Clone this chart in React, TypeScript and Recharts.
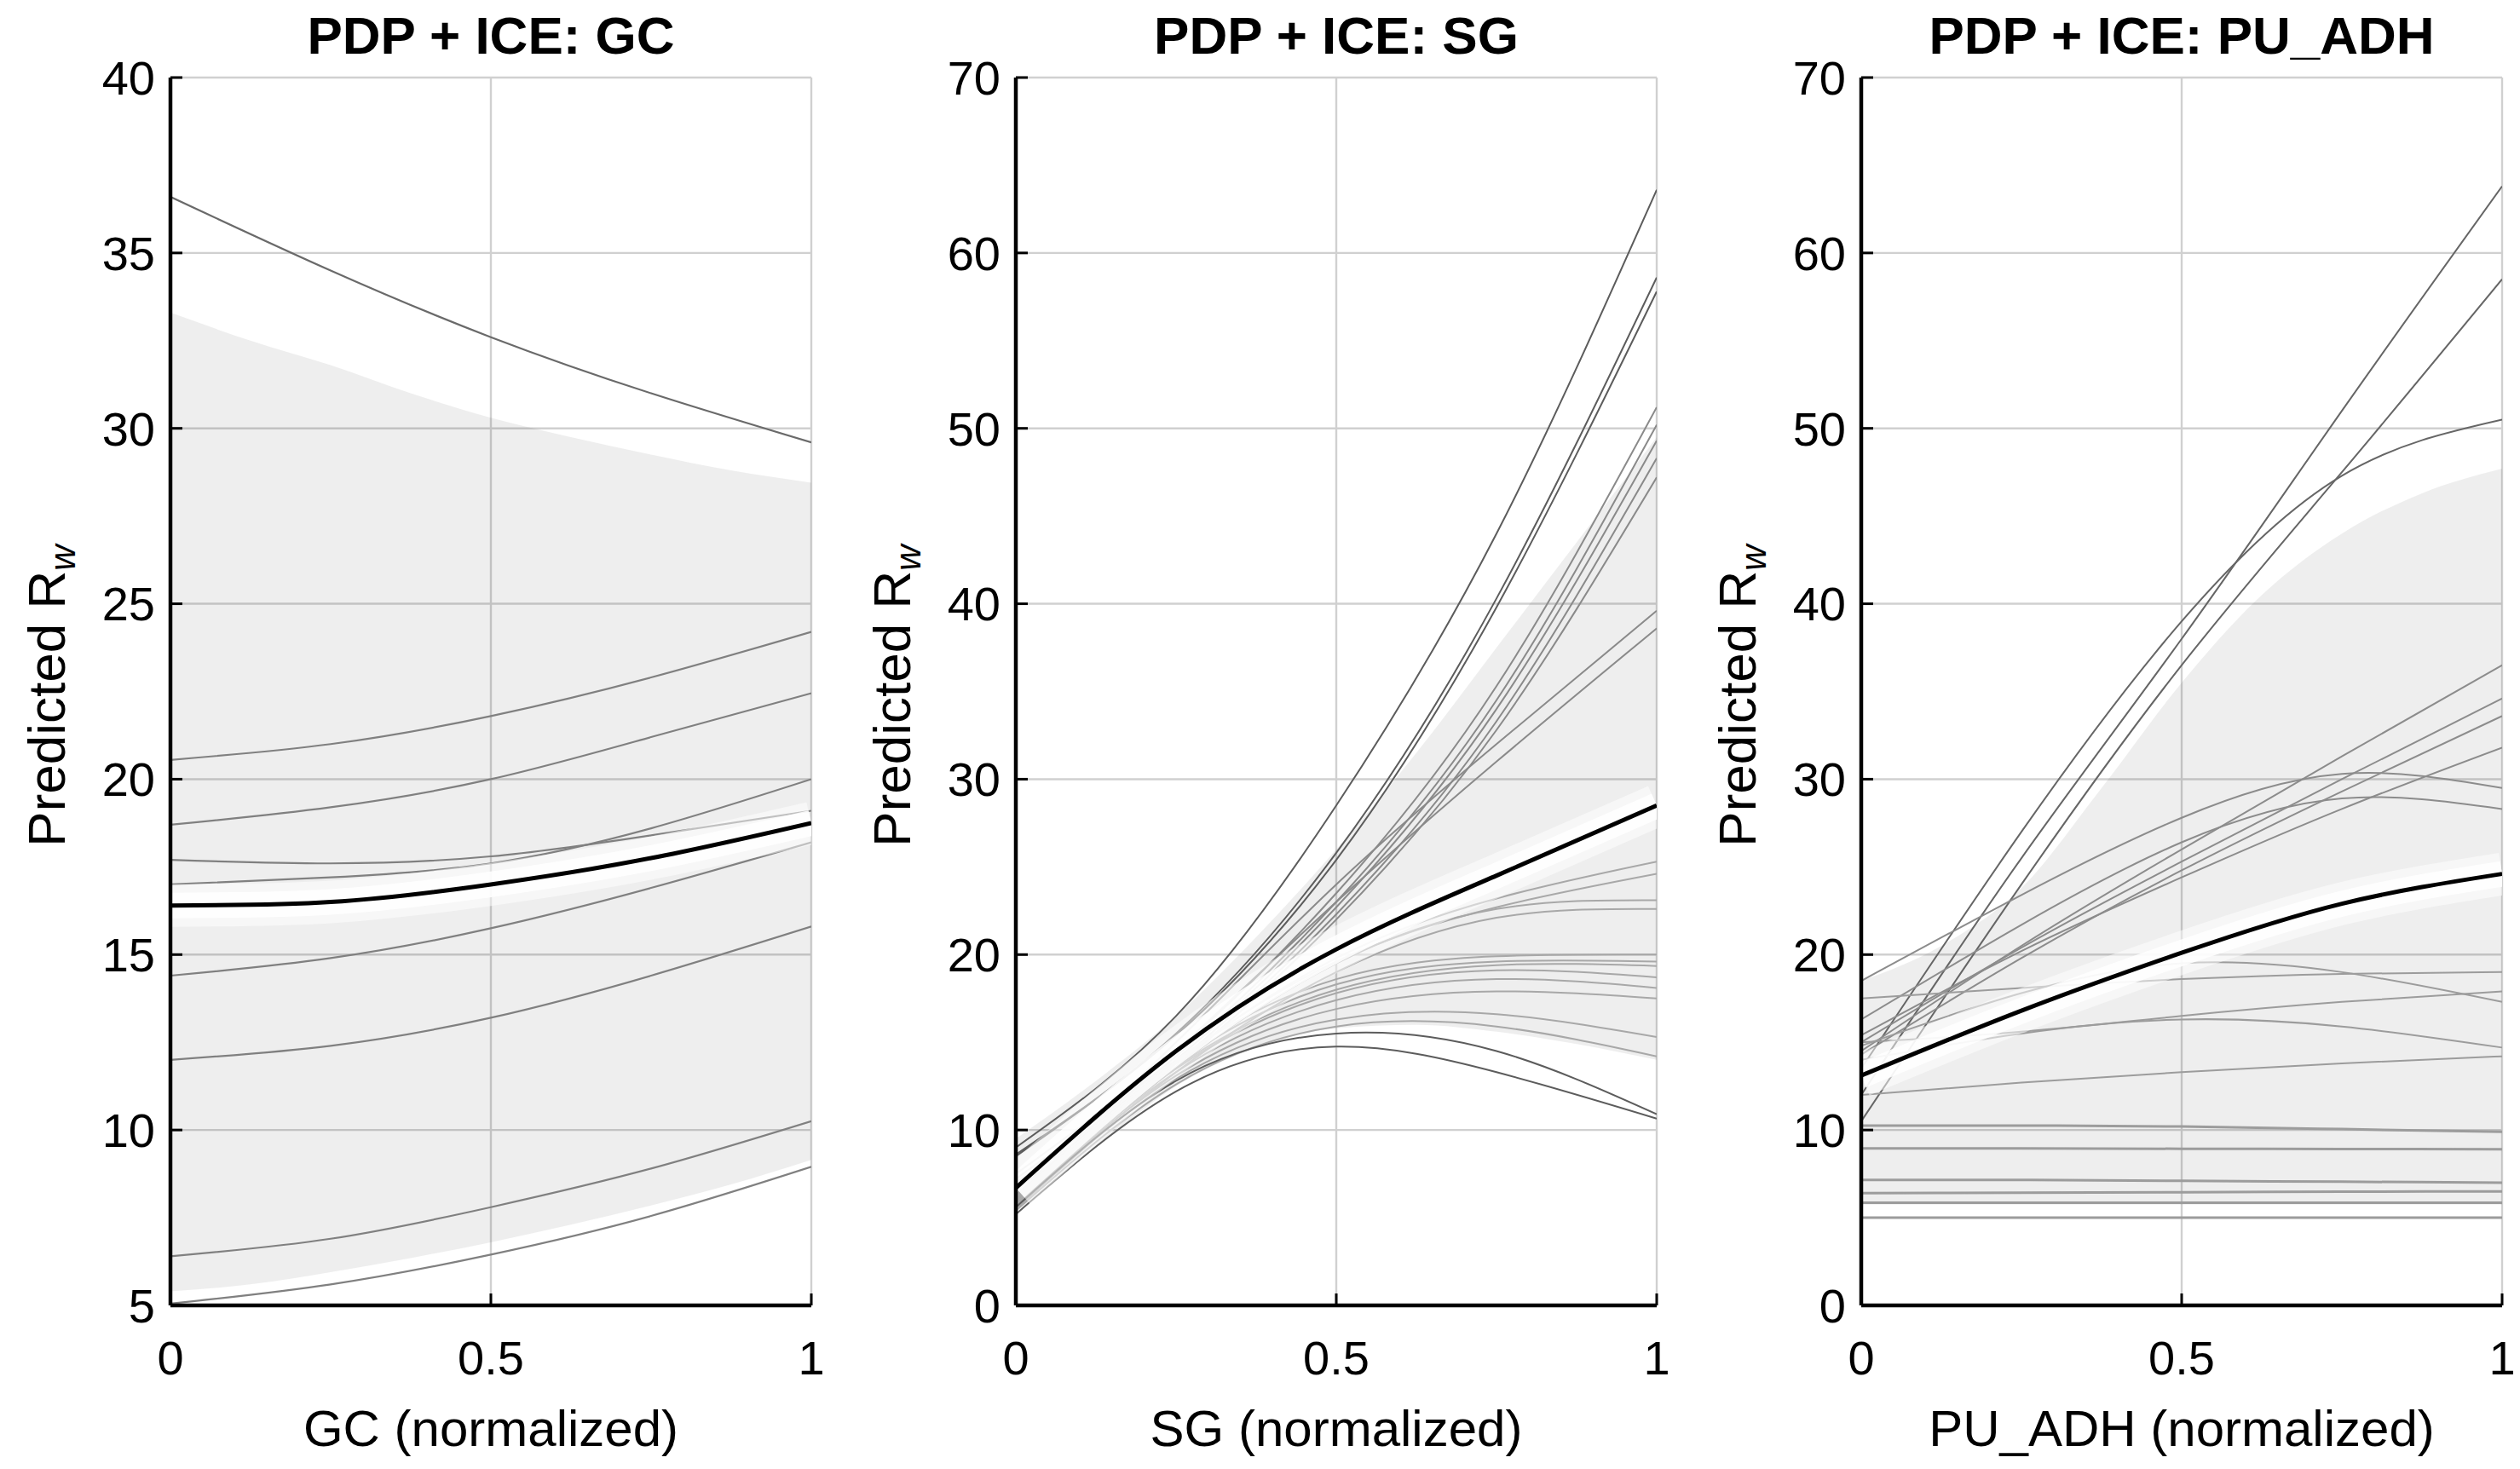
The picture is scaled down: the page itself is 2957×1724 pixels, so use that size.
import React from 'react';
import { ComposedChart, Line, Area, XAxis, YAxis, CartesianGrid } from 'recharts';

const FONT = '"Liberation Sans", Arial, Helvetica, sans-serif';

// Normalized feature positions where curves are sampled
const xGrid = [0, 0.25, 0.5, 0.75, 1];
// Finer positions for the shaded spread band
const bandGrid = [0, 0.125, 0.25, 0.375, 0.5, 0.625, 0.75, 0.875, 1];
const xTicks = [0, 0.5, 1];

// ---- GC panel ----
const gcTicks = [5, 10, 15, 20, 25, 30, 35, 40];
const gcPdp = [16.4, 16.5, 17.0, 17.75, 18.75];
const gcIce = [
  [36.6, 34.5, 32.6, 31.0, 29.6],
  [20.55, 21.0, 21.8, 22.9, 24.2],
  [18.7, 19.2, 20.0, 21.2, 22.45],
  [17.7, 17.6, 17.8, 18.4, 19.1],
  [17.0, 17.2, 17.6, 18.6, 20.0],
  [14.4, 14.9, 15.75, 16.9, 18.2],
  [12.0, 12.4, 13.2, 14.4, 15.8],
  [6.4, 6.9, 7.8, 8.9, 10.25],
  [5.05, 5.6, 6.45, 7.55, 8.95],
];
const gcBandLow = [5.4, 5.6, 5.95, 6.35, 6.8, 7.3, 7.85, 8.45, 9.15];
const gcBandHigh = [33.3, 32.5, 31.8, 31.0, 30.3, 29.75, 29.25, 28.8, 28.45];

// ---- SG panel ----
const sgTicks = [0, 10, 20, 30, 40, 50, 60, 70];
const sgPdp = [6.7, 14.5, 20.3, 24.5, 28.5];
const sgIce = [
  [9.0, 16.5, 28.5, 44.0, 63.6],
  [8.5, 15.5, 25.8, 40.3, 58.6],
  [8.6, 15.4, 25.4, 39.8, 57.8],
  [7.5, 14.5, 23.5, 35.3, 51.2],
  [7.2, 14.2, 23.0, 34.5, 50.2],
  [7.0, 14.0, 22.7, 34.0, 49.3],
  [6.8, 13.8, 22.3, 33.3, 48.3],
  [6.6, 13.6, 22.0, 32.8, 47.2],
  [6.5, 15.0, 24.0, 32.0, 39.6],
  [6.3, 14.5, 23.0, 31.0, 38.6],
  [6.0, 13.8, 19.8, 23.2, 25.3],
  [6.2, 13.9, 19.6, 22.7, 24.6],
  [6.0, 13.6, 19.5, 22.6, 23.1],
  [5.8, 13.3, 19.0, 22.1, 22.6],
  [6.3, 14.0, 18.6, 19.9, 20.0],
  [6.1, 13.8, 18.3, 19.6, 19.6],
  [6.0, 13.6, 18.0, 19.4, 19.35],
  [5.9, 13.5, 17.8, 19.1, 18.7],
  [5.8, 13.3, 17.4, 18.6, 18.1],
  [5.7, 13.1, 16.9, 17.9, 17.5],
  [5.5, 12.9, 16.3, 16.6, 15.3],
  [5.4, 12.6, 15.9, 15.9, 14.2],
  [5.6, 12.8, 15.5, 14.5, 10.9],
  [5.2, 12.2, 14.75, 13.3, 10.65],
];
const sgBandLow = [5.3, 9.0, 12.5, 14.7, 15.8, 16.0, 15.6, 14.9, 14.0];
const sgBandHigh = [9.5, 12.8, 16.5, 21.0, 26.0, 31.5, 37.5, 43.5, 49.5];

// ---- PU_ADH panel ----
const puTicks = [0, 10, 20, 30, 40, 50, 60, 70];
const puPdp = [13.1, 16.8, 20.1, 22.9, 24.6];
const puIce = [
  [12.0, 25.5, 38.0, 51.0, 63.8],
  [10.5, 24.0, 36.5, 47.5, 58.5],
  [13.5, 27.0, 39.0, 47.3, 50.5],
  [18.5, 23.4, 27.8, 30.3, 29.5],
  [16.3, 21.7, 26.4, 28.9, 28.3],
  [14.5, 20.5, 26.0, 31.3, 36.5],
  [15.0, 20.4, 25.3, 30.0, 34.6],
  [14.3, 19.8, 24.8, 29.3, 33.6],
  [15.4, 20.2, 24.4, 28.3, 31.8],
  [17.5, 18.1, 18.6, 18.9, 19.0],
  [14.8, 17.8, 19.5, 19.0, 17.3],
  [15.0, 15.6, 16.5, 17.3, 17.9],
  [14.0, 15.5, 16.3, 15.9, 14.7],
  [12.0, 12.7, 13.3, 13.8, 14.2],
  [10.25, 10.25, 10.2, 10.05, 9.9],
  [8.95, 8.95, 8.93, 8.92, 8.9],
  [7.15, 7.15, 7.1, 7.05, 7.0],
  [6.4, 6.42, 6.45, 6.48, 6.5],
  [5.85, 5.85, 5.85, 5.85, 5.85],
  [5.0, 5.0, 5.0, 5.0, 5.0],
];
const puBandLow = [5.75, 5.75, 5.75, 5.75, 5.75, 5.75, 5.75, 5.75, 5.75];
const puBandHigh = [18.5, 20.5, 23.8, 29.5, 35.5, 40.5, 44.0, 46.3, 47.7];

// ---- layout ----
const PLOT_TOP = 91;
const PLOT_BOTTOM = 1532;
const PLOT_W = 752;
const AXIS_W = 200;
const RIGHT_PAD = 30;

type Row = Record<string, number | null>;

function buildRows(ice: number[][], pdp: number[], lo: number[], hi: number[]): Row[] {
  return bandGrid.map((x, i) => {
    const k = xGrid.indexOf(x);
    const row: Row = { x, lo: lo[i], hi: hi[i], pdp: k >= 0 ? pdp[k] : null };
    ice.forEach((c, j) => {
      row['ice' + j] = k >= 0 ? c[k] : null;
    });
    return row;
  });
}

const blankTick = () => <g />;

type PanelCfg = {
  left: number;
  title: string;
  xLabel: string;
  domain: [number, number];
  ticks: number[];
  pdp: number[];
  ice: number[][];
  lo: number[];
  hi: number[];
  tone: (i: number) => string;
  width: (i: number) => number;
};

const panels: PanelCfg[] = [
  {
    left: 200,
    title: 'PDP + ICE: GC',
    xLabel: 'GC (normalized)',
    domain: [5, 40],
    ticks: gcTicks,
    pdp: gcPdp,
    ice: gcIce,
    lo: gcBandLow,
    hi: gcBandHigh,
    tone: (i) => (i === 0 ? '#6a6a6a' : '#808080'),
    width: () => 2.2,
  },
  {
    left: 1192,
    title: 'PDP + ICE: SG',
    xLabel: 'SG (normalized)',
    domain: [0, 70],
    ticks: sgTicks,
    pdp: sgPdp,
    ice: sgIce,
    lo: sgBandLow,
    hi: sgBandHigh,
    tone: (i) => (i < 3 || i >= 22 ? '#5c5c5c' : i < 10 ? '#8a8a8a' : '#a8a8a8'),
    width: () => 2,
  },
  {
    left: 2184,
    title: 'PDP + ICE: PU_ADH',
    xLabel: 'PU_ADH (normalized)',
    domain: [0, 70],
    ticks: puTicks,
    pdp: puPdp,
    ice: puIce,
    lo: puBandLow,
    hi: puBandHigh,
    tone: (i) => (i < 3 ? '#666666' : i < 9 ? '#8c8c8c' : '#9c9c9c'),
    width: (i) => (i >= 14 ? 3 : 2),
  },
];

function Panel({ cfg }: { cfg: PanelCfg }) {
  const rows = buildRows(cfg.ice, cfg.pdp, cfg.lo, cfg.hi);
  const axisLine = { stroke: '#000', strokeWidth: 4.5 };
  const tickLine = { stroke: '#000', strokeWidth: 3 };
  const tickText = { fill: '#000', fontSize: 56, fontFamily: FONT };
  return (
    <div style={{ position: 'absolute', left: cfg.left - AXIS_W, top: 0 }}>
      <ComposedChart
        width={AXIS_W + PLOT_W + RIGHT_PAD}
        height={1724}
        data={rows}
        margin={{ top: PLOT_TOP, right: RIGHT_PAD, bottom: 0, left: 0 }}
      >
        <CartesianGrid stroke="#d0d0d0" strokeWidth={2.4} />
        <XAxis
          dataKey="x"
          type="number"
          domain={[0, 1]}
          ticks={xTicks}
          interval={0}
          height={1724 - PLOT_BOTTOM}
          stroke="#000"
          axisLine={axisLine}
          tickLine={tickLine}
          tickSize={-14}
          tickMargin={55}
          tick={tickText}
          allowDataOverflow
        />
        <XAxis
          xAxisId="top"
          orientation="top"
          dataKey="x"
          type="number"
          domain={[0, 1]}
          ticks={xTicks}
          interval={0}
          height={0}
          stroke="#000"
          axisLine={axisLine}
          tickLine={tickLine}
          tickSize={-14}
          tick={blankTick}
          allowDataOverflow
        />
        <YAxis
          type="number"
          domain={cfg.domain}
          ticks={cfg.ticks}
          interval={0}
          width={AXIS_W}
          stroke="#000"
          axisLine={axisLine}
          tickLine={tickLine}
          tickSize={-14}
          tickMargin={32}
          tick={tickText}
          allowDataOverflow
        />
        <YAxis
          yAxisId="right"
          orientation="right"
          type="number"
          domain={cfg.domain}
          ticks={cfg.ticks}
          interval={0}
          width={0}
          stroke="#000"
          axisLine={axisLine}
          tickLine={tickLine}
          tickSize={-14}
          tick={blankTick}
          allowDataOverflow
        />
        <Area
          type="monotone"
          dataKey={(d: Row) => [d.lo, d.hi]}
          stroke="none"
          fill="#000"
          fillOpacity={0.065}
          dot={false}
          activeDot={false}
          isAnimationActive={false}
        />
        {cfg.ice.map((_, j) => (
          <Line
            key={'ice' + j}
            type="natural"
            dataKey={'ice' + j}
            stroke={cfg.tone(j)}
            strokeWidth={cfg.width(j)}
            dot={false}
            activeDot={false}
            connectNulls
            isAnimationActive={false}
          />
        ))}
        <Line
          type="natural"
          dataKey="pdp"
          stroke="#fff"
          strokeWidth={50}
          strokeOpacity={0.5}
          dot={false}
          activeDot={false}
          connectNulls
          isAnimationActive={false}
        />
        <Line
          type="natural"
          dataKey="pdp"
          stroke="#fff"
          strokeWidth={30}
          strokeOpacity={0.85}
          dot={false}
          activeDot={false}
          connectNulls
          isAnimationActive={false}
        />
        <Line
          type="natural"
          dataKey="pdp"
          stroke="#000"
          strokeWidth={5}
          dot={false}
          activeDot={false}
          connectNulls
          isAnimationActive={false}
        />
      </ComposedChart>
    </div>
  );
}

export default function App() {
  const midY = (PLOT_TOP + PLOT_BOTTOM) / 2 + 5;
  return (
    <div
      style={{
        position: 'absolute',
        left: 0,
        top: 0,
        width: 2957,
        height: 1724,
        background: '#fff',
        overflow: 'hidden',
        fontFamily: FONT,
      }}
    >
      {panels.map((p) => (
        <Panel key={p.title} cfg={p} />
      ))}
      <svg
        width={2957}
        height={1724}
        style={{ position: 'absolute', left: 0, top: 0, pointerEvents: 'none' }}
      >
        {panels.map((p) => (
          <g key={'t' + p.title} fontFamily={FONT} fill="#000">
            <text x={p.left + PLOT_W / 2} y={63} fontSize={62} fontWeight="bold" textAnchor="middle">
              {p.title}
            </text>
            <text x={p.left + PLOT_W / 2} y={1697} fontSize={60} textAnchor="middle">
              {p.xLabel}
            </text>
            <text
              transform={`translate(${p.left - 124}, ${midY}) rotate(-90)`}
              fontSize={62}
              textAnchor="middle"
            >
              Predicted R
              <tspan dy={12} fontSize={42} fontStyle="italic">
                w
              </tspan>
            </text>
          </g>
        ))}
      </svg>
    </div>
  );
}
